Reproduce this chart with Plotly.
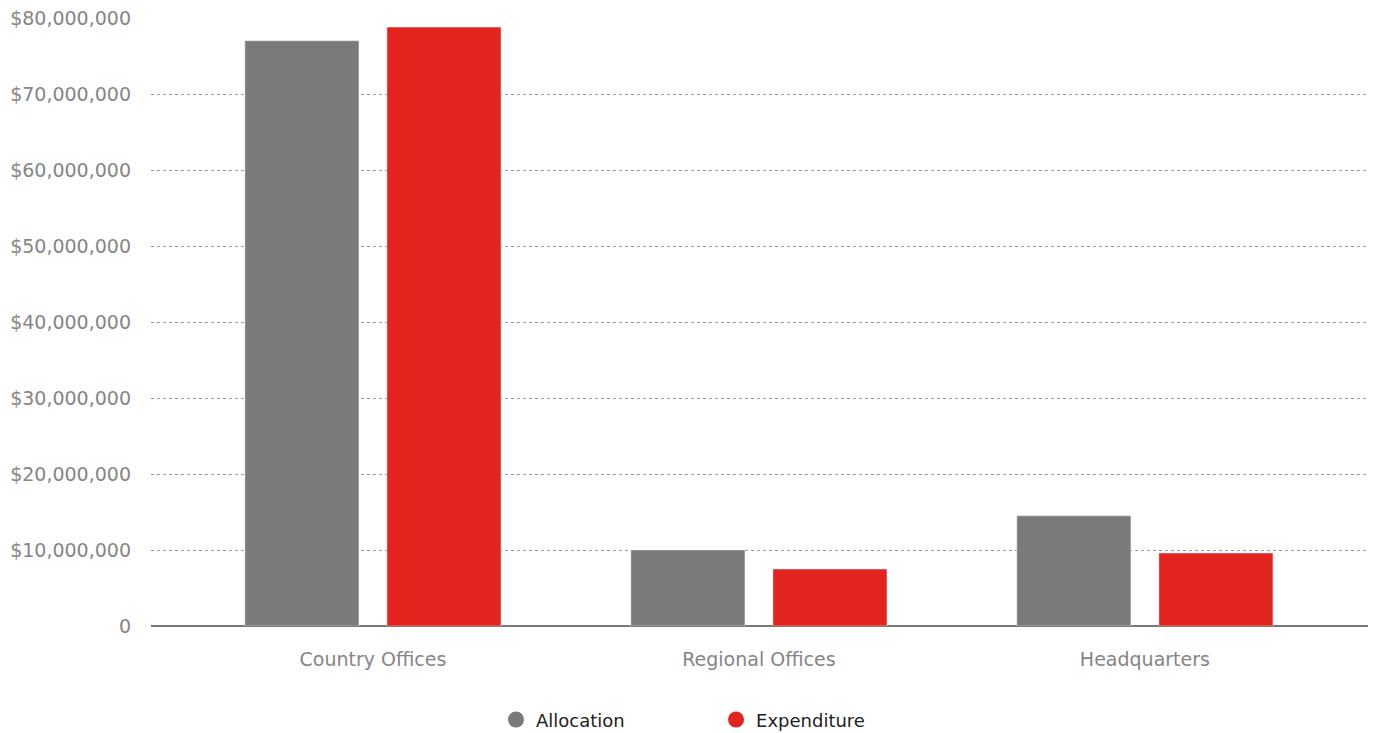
import plotly.graph_objects as go

categories = ["Country Offices", "Regional Offices", "Headquarters"]
allocation = [77_000_000, 10_000_000, 14_500_000]
expenditure = [78_800_000, 7_500_000, 9_600_000]
tick_vals = [0, 10_000_000, 20_000_000, 30_000_000, 40_000_000, 50_000_000, 60_000_000, 70_000_000, 80_000_000]
tick_text = ["0", "$10,000,000", "$20,000,000", "$30,000,000", "$40,000,000",
             "$50,000,000", "$60,000,000", "$70,000,000", "$80,000,000"]

GRAY = "#7a7a7b"
RED = "#e3241e"
FONT = "DejaVu Sans"

fig = go.Figure()
fig.add_trace(go.Bar(x=categories, y=allocation, name="Allocation", marker_color=GRAY,
                     showlegend=False))
fig.add_trace(go.Bar(x=categories, y=expenditure, name="Expenditure", marker_color=RED,
                     showlegend=False))
fig.add_trace(go.Scatter(x=[None], y=[None], mode="markers", name="Allocation",
                         marker=dict(symbol="circle", size=18, color=GRAY)))
fig.add_trace(go.Scatter(x=[None], y=[None], mode="markers", name="Expenditure",
                         marker=dict(symbol="circle", size=18, color=RED)))

fig.update_layout(
    width=1381, height=733,
    margin=dict(l=151, r=13, t=18, b=107),
    paper_bgcolor="white", plot_bgcolor="white",
    barmode="group", bargap=0.264, bargroupgap=0.197,
    font=dict(family=FONT, size=19, color="#858585"),
    showlegend=True,
    legend=dict(orientation="h", x=0.2835, xanchor="left",
                yref="container", y=0.018, yanchor="middle",
                font=dict(family=FONT, size=18, color="#222222"),
                entrywidth=175, itemsizing="trace"),
    xaxis=dict(type="category", range=[-0.575, 2.578], showgrid=False,
               showline=False, zeroline=False, ticks="", ticklabelstandoff=20,
               automargin=False,
               tickfont=dict(size=19, color="#858585")),
    yaxis=dict(range=[0, 80_000_000], tickvals=tick_vals, ticktext=tick_text,
               showgrid=True, gridcolor="#9a9a9a", griddash="dot", gridwidth=1,
               zeroline=True, zerolinecolor="#7a7a7a", zerolinewidth=1.5,
               showline=False, ticks="", ticklabelstandoff=19,
               automargin=False,
               tickfont=dict(size=19, color="#858585")),
)

fig.write_html("out.html")
